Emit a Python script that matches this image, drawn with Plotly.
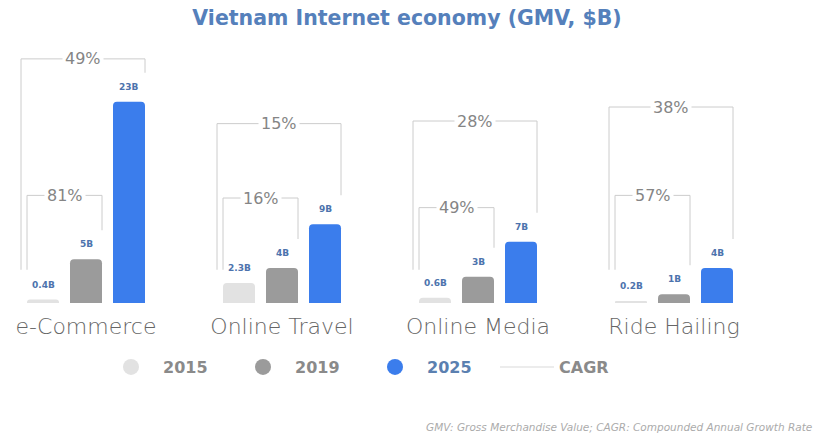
import plotly.graph_objects as go

# ---- data -------------------------------------------------------------
categories = ["e-Commerce", "Online Travel", "Online Media", "Ride Hailing"]
years = ["2015", "2019", "2025"]
gmv_2015 = [0.4, 2.3, 0.6, 0.2]
gmv_2019 = [5, 4, 3, 1]
gmv_2025 = [23, 9, 7, 4]
cagr_2015_2025 = [49, 15, 28, 38]
cagr_2015_2019 = [81, 16, 49, 57]

# ---- layout constants -------------------------------------------------
W, H = 814, 437
M_TOP, M_BOT = 40, 134
PLOT_H = H - M_TOP - M_BOT
BASE_PX = H - M_BOT                  # pixel row of the bar baseline
PX_PER_B = 8.75                      # vertical scale (pixels per $1B)
Y_MAX = PLOT_H / PX_PER_B
GROUP_PX = 196                       # distance between category centres
FIRST_PX = 86                        # centre of first category
X_MIN = -FIRST_PX / GROUP_PX
X_MAX = (W - FIRST_PX) / GROUP_PX
OFFSET = 43 / GROUP_PX               # spacing between bars in a group
BAR_W = 32 / GROUP_PX

# bracket heights (in $B units on the y scale)
FULL_LEVEL = [27.9, 20.5, 20.8, 22.4]
MID_LEVEL = [12.3, 12.0, 10.9, 12.3]
LEFT_FOOT = 3.8
FOOT_GAP = 29 / PX_PER_B

FONT = "DejaVu Sans"
COLORS = {"2015": "#e2e2e2", "2019": "#9b9b9b", "2025": "#3b7dec"}
LABEL_COLOR = "#4d73ad"
BRACKET_COLOR = "#cccccc"
PCT_COLOR = "#858585"


def paper_y(px):
    """Convert a pixel row of the page into paper y coordinates."""
    return (BASE_PX - px) / PLOT_H


series = {"2015": gmv_2015, "2019": gmv_2019, "2025": gmv_2025}

fig = go.Figure()
annotations = []
shapes = []

for j, year in enumerate(years):
    vals = series[year]
    xs = [i + (j - 1) * OFFSET for i in range(len(categories))]
    fig.add_trace(go.Bar(
        x=xs, y=vals, width=BAR_W, name=year,
        marker=dict(color=COLORS[year], cornerradius=4, line=dict(width=0)),
        showlegend=False, hoverinfo="skip",
    ))
    for x, v in zip(xs, vals):
        annotations.append(dict(
            x=x, y=v, xref="x", yref="y", text=f"{v:g}B", showarrow=False,
            yanchor="bottom", yshift=8,
            font=dict(size=9, color=LABEL_COLOR, family=FONT, weight="bold"),
        ))

# CAGR brackets
for i in range(len(categories)):
    left_bar = i - OFFSET - BAR_W / 2
    spans = [
        # 2015 -> 2025
        (left_bar - 6 / GROUP_PX, i + OFFSET + BAR_W / 2, FULL_LEVEL[i],
         gmv_2025[i] + FOOT_GAP, cagr_2015_2025[i]),
        # 2015 -> 2019
        (left_bar, i + BAR_W / 2, MID_LEVEL[i],
         gmv_2019[i] + FOOT_GAP, cagr_2015_2019[i]),
    ]
    for l, r, top, foot, pct in spans:
        shapes.append(dict(type="path", xref="x", yref="y",
                           path=f"M {l},{LEFT_FOOT} L {l},{top} L {r},{top} L {r},{foot}",
                           line=dict(color=BRACKET_COLOR, width=1), layer="below"))
        annotations.append(dict(x=(l + r) / 2, y=top, xref="x", yref="y",
                                text=f"{pct}%", showarrow=False,
                                bgcolor="white", borderpad=2,
                                font=dict(size=16, color=PCT_COLOR, family=FONT)))

# legend entries
for year in years:
    name = year if year != "2025" else f"<span style='color:#5b80b0'>{year}</span>"
    fig.add_trace(go.Scatter(x=[None], y=[None], mode="markers", name=name,
                             marker=dict(size=16, color=COLORS[year])))
fig.add_trace(go.Scatter(x=[None], y=[None], mode="lines", name="CAGR",
                         line=dict(color="#ececec", width=2)))

annotations.append(dict(
    x=1, y=paper_y(427), xref="paper", yref="paper",
    xanchor="right", yanchor="middle", showarrow=False,
    text="GMV: Gross Merchandise Value; CAGR: Compounded Annual Growth Rate",
    font=dict(size=10.5, color="#ababab", family=FONT, style="italic"),
))

fig.update_layout(
    width=W, height=H,
    margin=dict(l=0, r=0, t=M_TOP, b=M_BOT),
    paper_bgcolor="white", plot_bgcolor="white",
    title=dict(text="Vietnam Internet economy (GMV, $B)", x=0.5, xanchor="center",
               y=1 - 18 / H, yanchor="middle", yref="container",
               font=dict(size=20.5, color="#5580bb", family=FONT, weight="bold")),
    xaxis=dict(range=[X_MIN, X_MAX], tickvals=list(range(len(categories))),
               ticktext=categories, showgrid=False, zeroline=False, showline=False,
               ticks="", ticklabelstandoff=8,
               tickfont=dict(size=22, color="#666666", family=FONT, weight=200)),
    yaxis=dict(range=[0, Y_MAX], visible=False),
    barmode="overlay",
    showlegend=True,
    legend=dict(orientation="h", x=99 / W, xanchor="left",
                y=paper_y(367), yanchor="middle",
                entrywidth=63, entrywidthmode="pixels", itemwidth=54,
                font=dict(size=16, color="#8a8a8a", family=FONT, weight="bold"),
                bgcolor="rgba(0,0,0,0)", traceorder="normal"),
    annotations=annotations,
    shapes=shapes,
    hovermode=False,
)

fig.write_html("out.html")
